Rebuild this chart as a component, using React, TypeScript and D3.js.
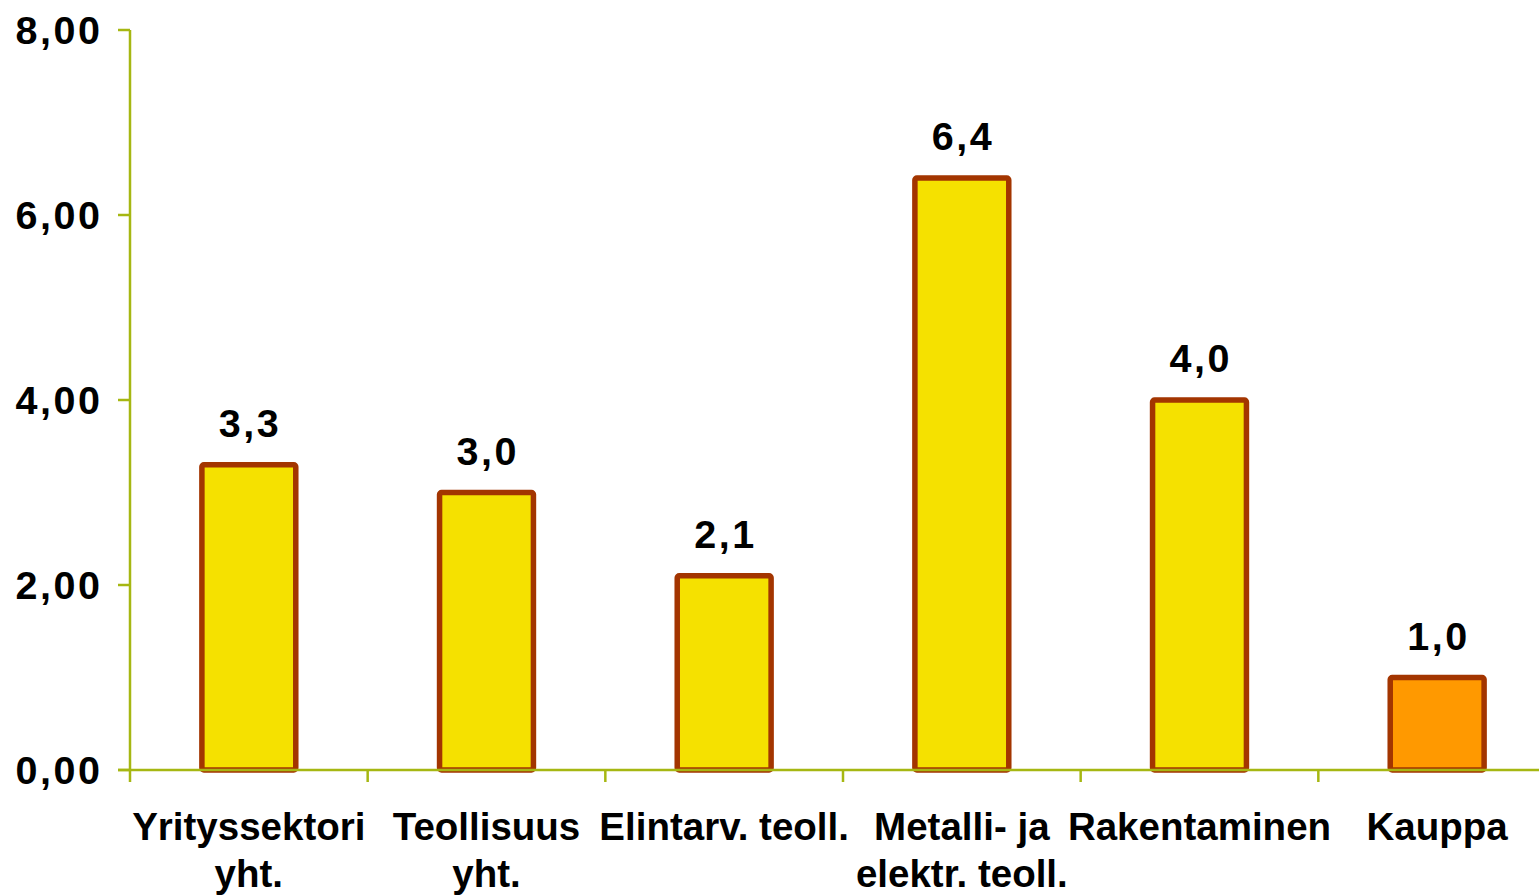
import React from "react";
import * as d3 from "d3";

const categories = [
  "Yrityssektori\nyht.",
  "Teollisuus\nyht.",
  "Elintarv. teoll.",
  "Metalli- ja\nelektr. teoll.",
  "Rakentaminen",
  "Kauppa",
];
const values = [3.3, 3.0, 2.1, 6.4, 4.0, 1.0];
const highlight = [false, false, false, false, false, true];
const yTicks = [0, 2, 4, 6, 8];

const W = 1539;
const H = 896;
const left = 130;
const right = 1556;
const top = 30;
const bottom = 770;
const axisColor = "#A6B712";
const strokeColor = "#A33500";
const yellow = "#F5E100";
const orange = "#FF9900";
const font = "'Liberation Sans', Arial, sans-serif";

export default function App() {
  const x = d3.scaleBand<string>().domain(categories).range([left, right]).padding(0);
  const y = d3.scaleLinear().domain([0, 8]).range([bottom, top]);
  const step = x.bandwidth();
  const barW = step * 0.395;
  const fmtTick = (v: number) => v.toFixed(2).replace(".", ",");
  const fmtVal = (v: number) => v.toFixed(1).replace(".", ",");
  const ls = 2.5;

  return (
    <div style={{ position: "absolute", left: 0, top: 0 }}>
      <svg width={W} height={H} style={{ display: "block" }} fontFamily={font}>
        <rect x={0} y={0} width={W} height={H} fill="#fff" />
        {categories.map((c, i) => {
          const cx = (x(c) as number) + step / 2;
          const y0 = y(values[i]);
          return (
            <rect
              key={c}
              x={cx - barW / 2}
              y={y0}
              width={barW}
              height={y(0) - y0}
              fill={highlight[i] ? orange : yellow}
              stroke={strokeColor}
              strokeWidth={5.5}
              rx={2}
            />
          );
        })}
        <line x1={left} x2={left} y1={top} y2={bottom + 12} stroke={axisColor} strokeWidth={2.5} />
        <line x1={left - 12} x2={W} y1={bottom} y2={bottom} stroke={axisColor} strokeWidth={2.5} />
        {yTicks.map((t) => (
          <g key={t}>
            <line x1={left - 12} x2={left} y1={y(t)} y2={y(t)} stroke={axisColor} strokeWidth={2.5} />
            <text
              x={100 + ls}
              y={y(t)}
              dy="0.36em"
              textAnchor="end"
              fontSize={39.5}
              fontWeight="bold"
              letterSpacing={ls}
              fill="#000"
            >
              {fmtTick(t)}
            </text>
          </g>
        ))}
        {categories.map((c, i) => {
          const bx = (x(c) as number) + step;
          return bx <= W ? (
            <line key={"t" + c} x1={bx} x2={bx} y1={bottom} y2={bottom + 12} stroke={axisColor} strokeWidth={2.5} />
          ) : null;
        })}
        {categories.map((c, i) => {
          const cx = (x(c) as number) + step / 2;
          return (
            <text
              key={"v" + c}
              x={cx + ls / 2}
              y={y(values[i]) - 28}
              textAnchor="middle"
              fontSize={39.5}
              fontWeight="bold"
              letterSpacing={ls}
              fill="#000"
            >
              {fmtVal(values[i])}
            </text>
          );
        })}
        {categories.map((c) => {
          const cx = (x(c) as number) + step / 2;
          return (
            <text key={"c" + c} textAnchor="middle" fontSize={38.5} fontWeight="bold" fill="#000">
              {c.split("\n").map((line, j) => (
                <tspan key={j} x={cx} y={840 + j * 47}>
                  {line}
                </tspan>
              ))}
            </text>
          );
        })}
      </svg>
    </div>
  );
}
